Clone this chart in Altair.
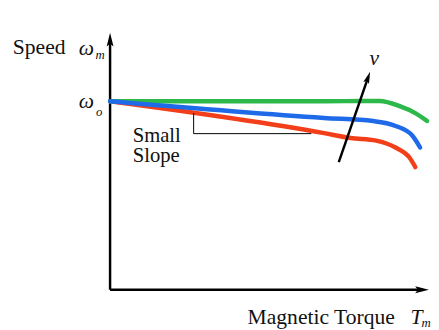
import altair as alt
import pandas as pd

# Curves (torque units 0-100, speed units 0-100)
green_T = [0, 67.1, 80.0, 84.5, 90.8, 95.7, 99.4]
green_S = [73.3, 73.3, 73.4, 73.4, 71.4, 68.7, 65.6]
blue_T = [0, 67.1, 82.5, 89.5, 94.8, 97.2]
blue_S = [73.3, 66.8, 65.6, 63.7, 59.9, 55.3]
red_T = [0, 67.1, 75.4, 83.4, 89.5, 93.8, 95.7]
red_S = [73.3, 60.9, 59.0, 58.0, 55.3, 51.5, 47.7]

# Bracket ("Small Slope")
bracket_T = [26.2, 26.2, 63.1]
bracket_S = [68.7, 60.7, 60.7]

# "v" arrow
v_arrow_T = [71.7, 80.9]
v_arrow_S = [49.6, 82.6]

colors = {"green": "#2db84c", "blue": "#1f6ae8", "red": "#f23f1a"}
FONT = "Liberation Serif"

xs = alt.Scale(domain=[0, 100], nice=False, zero=False)
ys = alt.Scale(domain=[0, 100], nice=False, zero=False)


def X(f="T"):
    return alt.X(f"{f}:Q", scale=xs, axis=None)


def Y(f="S"):
    return alt.Y(f"{f}:Q", scale=ys, axis=None)


layers = []

# axes
axis_df = pd.DataFrame({"T": [0, 0], "S": [0, 0], "T2": [0, 98], "S2": [97, 0]})
layers.append(
    alt.Chart(axis_df).mark_rule(color="black", strokeWidth=2.5, clip=False).encode(
        x=X(), y=Y(), x2="T2:Q", y2="S2:Q"
    )
)
ARROW = "M0,-1L0.5,1L0,0.6L-0.5,1Z"
heads_df = pd.DataFrame({"T": [0, 97.8, 80.9], "S": [97.3, 0, 82.6], "ang": [0, 90, 19.2], "sz": [196, 196, 150]})
layers.append(
    alt.Chart(heads_df).mark_point(shape=ARROW, filled=True, color="black", opacity=1, clip=False).encode(
        x=X(), y=Y(), angle=alt.Angle("ang:Q", scale=None), size=alt.Size("sz:Q", scale=None)
    )
)

# curves
for name, T, S in [("red", red_T, red_S), ("green", green_T, green_S), ("blue", blue_T, blue_S)]:
    df = pd.DataFrame({"T": T, "S": S})
    layers.append(
        alt.Chart(df).mark_line(color=colors[name], strokeWidth=4.5, interpolate="monotone",
                                strokeCap="round", clip=False).encode(x=X(), y=Y(), order="T:Q")
    )

# bracket
bdf = pd.DataFrame({"T": bracket_T, "S": bracket_S, "o": [0, 1, 2]})
layers.append(
    alt.Chart(bdf).mark_line(color="black", strokeWidth=1, clip=False).encode(x=X(), y=Y(), order="o:Q")
)

# v arrow shaft
vdf = pd.DataFrame({"T": v_arrow_T, "S": v_arrow_S, "o": [0, 1]})
layers.append(
    alt.Chart(vdf).mark_line(color="black", strokeWidth=2.5, clip=False).encode(x=X(), y=Y(), order="o:Q")
)

# texts
text_rows = [
    # text, T, S, size, style
    ("Speed", -30.5, 91.6, 22, "normal"),
    ("ω", -9.8, 91.4, 22, "italic"),
    ("m", -4.6, 89.7, 13, "italic"),
    ("ω", -9.8, 70.6, 22, "italic"),
    ("o", -4.4, 67.6, 13, "italic"),
    ("Small", 7.1, 57.3, 21, "normal"),
    ("Slope", 7.1, 49.6, 21, "normal"),
    ("Magnetic Torque", 43.1, -13.4, 22, "normal"),
    ("T", 94.2, -13.4, 22, "italic"),
    ("m", 97.6, -14.4, 13, "italic"),
    ("v", 81.3, 87.4, 22, "italic"),
]
for txt, T, S, size, style in text_rows:
    df = pd.DataFrame({"T": [T], "S": [S], "label": [txt]})
    layers.append(
        alt.Chart(df).mark_text(font=FONT, fontSize=size, fontStyle=style, align="left",
                                baseline="alphabetic", color="#111111", clip=False).encode(
            x=X(), y=Y(), text="label:N"
        )
    )

chart = alt.layer(*layers).properties(
    width=325,
    height=262,
    padding={"left": 104, "top": 22, "right": 2, "bottom": 38},
    autosize=alt.AutoSizeParams(type="none"),
    background="white",
).configure_view(stroke=None)

chart.save("out.html", embed_options={"renderer": "svg", "actions": False})
